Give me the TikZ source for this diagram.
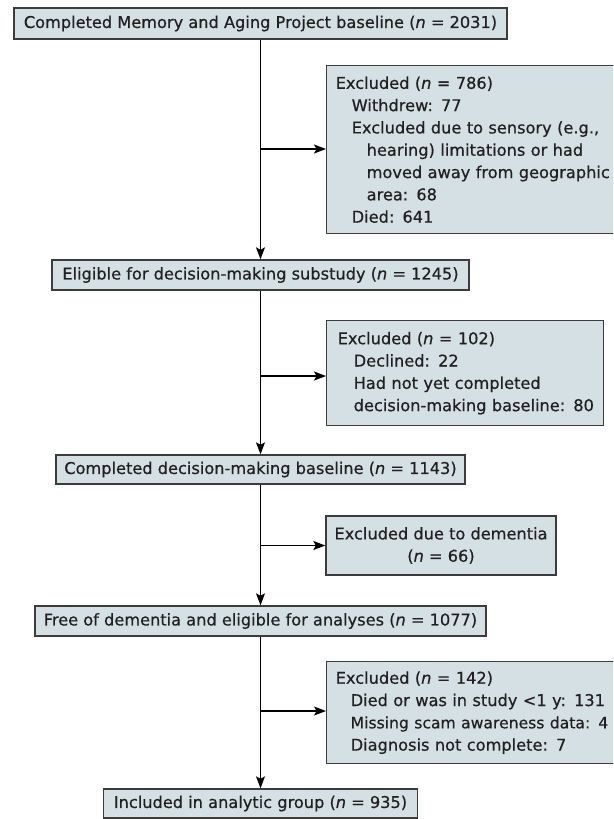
\documentclass[tikz,border=0pt]{standalone}
\usepackage{fontspec}
\setmainfont{DejaVu Sans}[FakeBold=0.5]
\usetikzlibrary{arrows.meta}
\definecolor{boxfill}{RGB}{212,224,228}
\definecolor{boxline}{RGB}{60,60,60}
\definecolor{txt}{RGB}{35,31,32}
\newcommand{\nn}{\textit{n}}
\begin{document}
\begin{tikzpicture}[x=1pt,y=-1pt,
  every node/.style={font=\fontsize{16.2}{22.3}\selectfont, text=txt},
  mainbox/.style={draw=boxline, fill=boxfill, line width=1.4pt, inner sep=0pt, minimum height=30pt, align=center},
  exbox/.style={draw=boxline, fill=boxfill, line width=1.4pt, inner ysep=0pt, anchor=north west, align=left},
  arr/.style={draw=black, line width=1.1pt, -{Stealth[length=12pt,width=9pt,inset=2.5pt]}}
]
\useasboundingbox (0,0) rectangle (613,819);
\clip (0,0) rectangle (613,819);

% main column
\node[mainbox, minimum width=493pt, minimum height=31pt] (b1) at (260.5,23.5) {Completed Memory and Aging Project baseline (\nn{} = 2031)};
\node[mainbox, minimum width=417pt] (b2) at (260.5,275) {Eligible for decision-making substudy (\nn{} = 1245)};
\node[mainbox, minimum width=409pt, minimum height=29pt] (b3) at (260.5,469.5) {Completed decision-making baseline (\nn{} = 1143)};
\node[mainbox, minimum width=451pt] (b4) at (260.5,621) {Free of dementia and eligible for analyses (\nn{} = 1077)};
\node[mainbox, minimum width=314pt, minimum height=29pt] (b5) at (260.5,803.5) {Included in analytic group (\nn{} = 935)};

% excluded boxes
\node[exbox, inner xsep=9pt, text width=300pt, minimum height=168pt] (e1) at (326,65) {%
\mbox{Excluded (\nn{} = 786)}\\
\mbox{\hspace*{16pt}Withdrew: 77}\\
\mbox{\hspace*{16pt}Excluded due to sensory (e.g.,}\\
\mbox{\hspace*{31pt}hearing) limitations or had}\\
\mbox{\hspace*{31pt}moved away from geographic}\\
\mbox{\hspace*{31pt}area: 68}\\
\mbox{\hspace*{16pt}Died: 641}};

\node[exbox, inner xsep=11pt, text width=255pt, minimum height=105pt] (e2) at (326,320) {%
\mbox{Excluded (\nn{} = 102)}\\
\mbox{\hspace*{16pt}Declined: 22}\\
\mbox{\hspace*{16pt}Had not yet completed}\\
\mbox{\hspace*{16pt}decision-making baseline: 80}};

\node[draw=boxline, fill=boxfill, line width=1.4pt, inner sep=0pt, align=center, minimum width=230pt, minimum height=59pt] (e3) at (441,545.5) {Excluded due to dementia\\(\nn{} = 66)};

\node[exbox, inner xsep=9pt, text width=300pt, minimum height=102pt] (e4) at (326,661) {%
\mbox{Excluded (\nn{} = 142)}\\
\mbox{\hspace*{15pt}Died or was in study <1 y: 131}\\
\mbox{\hspace*{15pt}{\fontsize{15.6}{22.3}\selectfont Missing scam awareness data: 4}}\\
\mbox{\hspace*{15pt}Diagnosis not complete: 7}};

% spine
\draw[arr] (b1) -- (b2);
\draw[arr] (b2) -- (b3);
\draw[arr] (b3) -- (b4);
\draw[arr] (b4) -- (b5);

% branches
\coordinate (j1) at (260.5,149);
\coordinate (j2) at (260.5,376);
\coordinate (j3) at (260.5,545.5);
\coordinate (j4) at (260.5,711);
\draw[arr] (j1) -- (j1 -| e1.west);
\draw[arr] (j2) -- (j2 -| e2.west);
\draw[arr] (j3) -- (j3 -| e3.west);
\draw[arr] (j4) -- (j4 -| e4.west);
\end{tikzpicture}
\end{document}
